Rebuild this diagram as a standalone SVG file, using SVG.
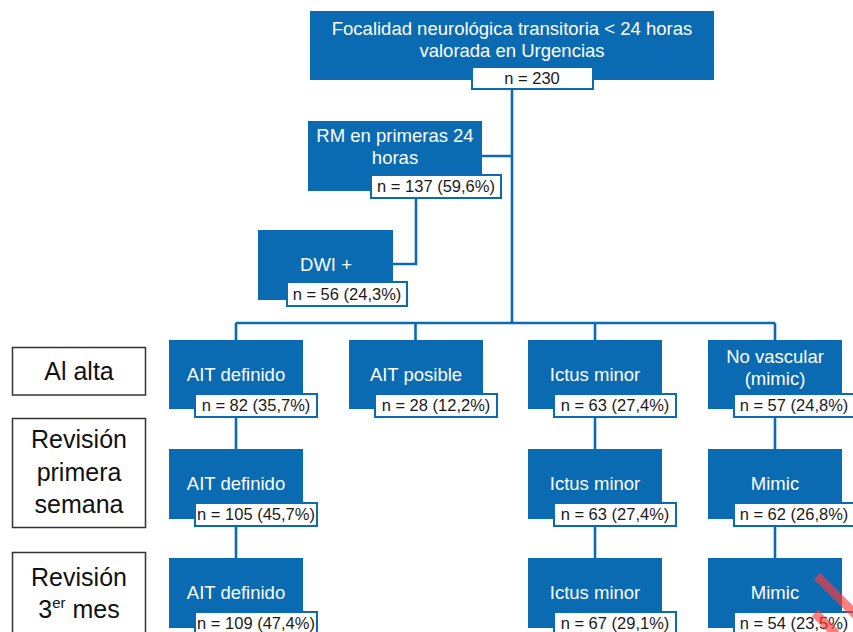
<svg xmlns="http://www.w3.org/2000/svg" width="853" height="632" viewBox="0 0 853 632">
<style>
.b{fill:#0a6bb3}
.n{fill:#fff;stroke:#0a6bb3;stroke-width:2}
.t{font-family:"Liberation Sans",Arial,sans-serif;font-size:18.5px;fill:#fff;text-anchor:middle}
.nt{font-family:"Liberation Sans",Arial,sans-serif;font-size:16.5px;fill:#1a1a1a;text-anchor:middle}
.lb{fill:#fff;stroke:#333;stroke-width:1.5}
.lt{font-family:"Liberation Sans",Arial,sans-serif;font-size:25px;fill:#111;text-anchor:middle}
.c{fill:none;stroke:#0a6bb3;stroke-width:2.6}
</style>
<rect width="853" height="632" fill="#fff"/>
<g id="connectors">
<path class="c" d="M512 89V323M482 156H512M416 198V264H393M236 323H775M236 323V340M415.5 323V340M595 323V340M775 323V340M236 417V449M236 526V558M595 417V449M595 526V558M775 417V449M775 526V558"/>
</g>
<g id="root">
<rect class="b" x="310" y="11" width="404" height="69"/>
<text class="t" x="512" y="35">Focalidad neurológica transitoria &lt; 24 horas</text>
<text class="t" x="512" y="57">valorada en Urgencias</text>
<rect class="n" x="472" y="67" width="121" height="22"/>
<text class="nt" x="532" y="84">n = 230</text>
</g>
<g id="rm">
<rect class="b" x="308" y="121" width="174" height="70"/>
<text class="t" x="395" y="142">RM en primeras 24</text>
<text class="t" x="395" y="164">horas</text>
<rect class="n" x="371" y="175" width="130" height="23"/>
<text class="nt" x="436" y="192">n = 137 (59,6%)</text>
</g>
<g id="dwi">
<rect class="b" x="258" y="230" width="135" height="70"/>
<text class="t" x="326" y="271">DWI +</text>
<rect class="n" x="287" y="282" width="120" height="24"/>
<text class="nt" x="347" y="300">n = 56 (24,3%)</text>
</g>
<g id="label-alta">
<rect class="lb" x="12.5" y="347.5" width="133" height="47.5"/>
<text class="lt" x="79" y="380">Al alta</text>
</g>
<g id="label-semana">
<rect class="lb" x="12.5" y="418.5" width="133" height="109"/>
<text class="lt" x="79" y="448">Revisión</text>
<text class="lt" x="79" y="481">primera</text>
<text class="lt" x="79" y="513">semana</text>
</g>
<g id="label-mes">
<rect class="lb" x="12.5" y="552.5" width="133" height="90"/>
<text class="lt" x="79" y="586">Revisión</text>
<text class="lt" x="79" y="618">3<tspan font-size="15" dy="-10">er</tspan><tspan dy="10"> mes</tspan></text>
</g>
<g id="ait-def-1">
<rect class="b" x="169" y="340" width="134" height="69"/>
<text class="t" x="236" y="381">AIT definido</text>
<rect class="n" x="195" y="394" width="122" height="23"/>
<text class="nt" x="256" y="411">n = 82 (35,7%)</text>
</g>
<g id="ait-pos-1">
<rect class="b" x="349" y="340" width="134" height="69"/>
<text class="t" x="416" y="381">AIT posible</text>
<rect class="n" x="375" y="394" width="122" height="23"/>
<text class="nt" x="436" y="411">n = 28 (12,2%)</text>
</g>
<g id="ictus-1">
<rect class="b" x="528" y="340" width="134" height="69"/>
<text class="t" x="595" y="381">Ictus minor</text>
<rect class="n" x="554" y="394" width="122" height="23"/>
<text class="nt" x="615" y="411">n = 63 (27,4%)</text>
</g>
<g id="novasc-1">
<rect class="b" x="708" y="340" width="134" height="69"/>
<text class="t" x="775" y="363">No vascular</text>
<text class="t" x="775" y="385">(mimic)</text>
<rect class="n" x="734" y="394" width="122" height="23"/>
<text class="nt" x="794" y="411">n = 57 (24,8%)</text>
</g>
<g id="ait-def-2">
<rect class="b" x="169" y="449" width="134" height="70"/>
<text class="t" x="236" y="490">AIT definido</text>
<rect class="n" x="195" y="503" width="122" height="23"/>
<text class="nt" x="256" y="520">n = 105 (45,7%)</text>
</g>
<g id="ictus-2">
<rect class="b" x="528" y="449" width="134" height="70"/>
<text class="t" x="595" y="490">Ictus minor</text>
<rect class="n" x="554" y="503" width="122" height="23"/>
<text class="nt" x="615" y="520">n = 63 (27,4%)</text>
</g>
<g id="mimic-2">
<rect class="b" x="708" y="449" width="134" height="70"/>
<text class="t" x="775" y="490">Mimic</text>
<rect class="n" x="734" y="503" width="122" height="23"/>
<text class="nt" x="794" y="520">n = 62 (26,8%)</text>
</g>
<g id="ait-def-3">
<rect class="b" x="169" y="558" width="134" height="70"/>
<text class="t" x="236" y="599">AIT definido</text>
<rect class="n" x="195" y="612" width="122" height="23"/>
<text class="nt" x="256" y="629">n = 109 (47,4%)</text>
</g>
<g id="ictus-3">
<rect class="b" x="528" y="558" width="134" height="70"/>
<text class="t" x="595" y="599">Ictus minor</text>
<rect class="n" x="554" y="612" width="122" height="23"/>
<text class="nt" x="615" y="629">n = 67 (29,1%)</text>
</g>
<g id="mimic-3">
<rect class="b" x="708" y="558" width="134" height="70"/>
<text class="t" x="775" y="599">Mimic</text>
<rect class="n" x="734" y="612" width="122" height="23"/>
<text class="nt" x="794" y="629">n = 54 (23,5%)</text>
</g>
<path d="M817 576L856 615M815 613L836 634" stroke="#ff3b3b" stroke-opacity="0.65" stroke-width="9" fill="none"/>
</svg>
